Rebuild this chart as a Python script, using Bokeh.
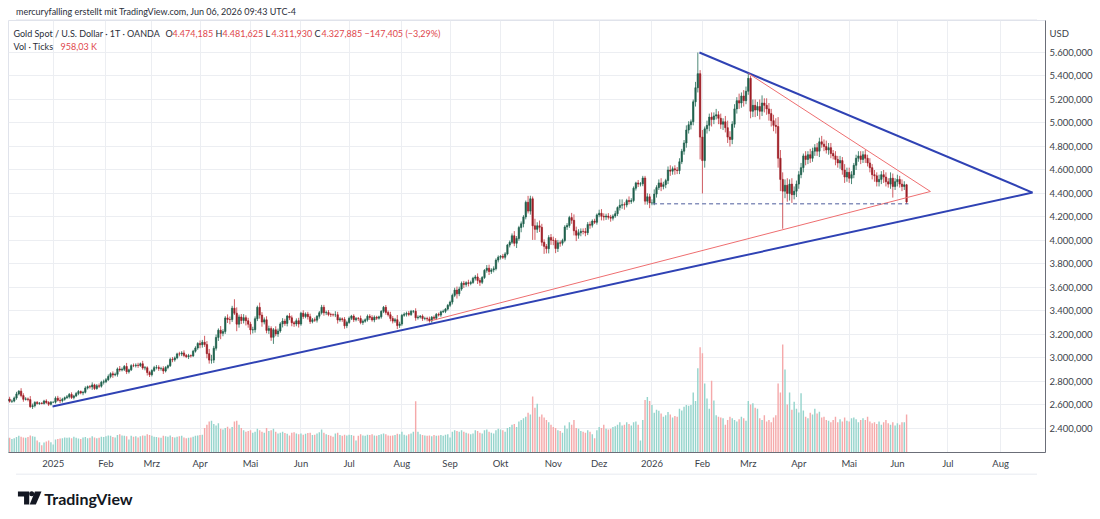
import pandas as pd
from bokeh.plotting import figure
from bokeh.layouts import column
from bokeh.models import Range1d, FixedTicker, Label, ColumnDataSource
from bokeh.embed import file_html
from bokeh.resources import INLINE

# ---------------- data (daily sessions, Mon-Fri, from 2024-12-02) ----------------
first_session = "2024-12-02"
first_open = 2633.0

close = [
    # Dec 2024
    2640, 2643, 2650, 2632, 2633, 2660, 2694, 2718, 2680, 2648, 2652, 2646, 2586, 2594, 2622, 2613, 2617, 2613, 2634, 2621, 2606, 2624,
    # Jan 2025
    2624, 2658, 2640, 2636, 2649, 2662, 2670, 2690, 2663, 2677, 2697, 2715, 2703, 2708, 2744, 2756, 2754, 2771, 2740, 2763, 2760, 2794, 2798,
    # Feb 2025
    2815, 2842, 2866, 2856, 2861, 2907, 2898, 2904, 2928, 2883, 2899, 2935, 2934, 2939, 2936, 2951, 2915, 2917, 2876, 2858,
    # Mar 2025
    2893, 2918, 2920, 2910, 2910, 2889, 2919, 2934, 2988, 2984, 3001, 3035, 3034, 3043, 3022, 3011, 3020, 3018, 3058, 3085, 3124,
    # Apr 2025
    3113, 3134, 3114, 3037, 2982, 2982, 3083, 3175, 3237, 3210, 3225, 3341, 3328, 3327, 3424, 3381, 3288, 3349, 3319, 3343, 3317, 3288,
    # May 2025
    3239, 3241, 3334, 3431, 3365, 3306, 3325, 3235, 3250, 3176, 3240, 3205, 3230, 3290, 3314, 3294, 3357, 3342, 3300, 3290, 3317, 3289,
    # Jun 2025
    3381, 3353, 3373, 3352, 3310, 3325, 3322, 3355, 3385, 3432, 3385, 3388, 3370, 3369, 3368, 3368, 3323, 3333, 3328, 3274, 3303,
    # Jul 2025
    3338, 3357, 3326, 3337, 3336, 3302, 3313, 3325, 3355, 3344, 3324, 3347, 3339, 3350, 3397, 3431, 3388, 3368, 3337, 3314, 3326, 3276, 3289,
    # Aug 2025
    3363, 3373, 3380, 3370, 3397, 3398, 3342, 3348, 3356, 3336, 3336, 3332, 3316, 3347, 3338, 3371, 3365, 3393, 3397, 3416, 3448,
    # Sep 2025
    3476, 3533, 3578, 3546, 3587, 3636, 3626, 3641, 3634, 3643, 3679, 3690, 3660, 3644, 3685, 3746, 3764, 3736, 3749, 3760, 3833, 3858,
    # Oct 2025
    3866, 3857, 3886, 3961, 3985, 4040, 3976, 4018, 4110, 4142, 4200, 4325, 4250, 4355, 4125, 4095, 4125, 4112, 3985, 3950, 3930, 4025, 4003,
    # Nov 2025
    4000, 3932, 3980, 3977, 4000, 4115, 4128, 4195, 4172, 4083, 4045, 4066, 4078, 4077, 4066, 4137, 4130, 4165, 4155, 4218,
    # Dec 2025
    4232, 4206, 4200, 4208, 4198, 4190, 4208, 4228, 4280, 4300, 4305, 4302, 4340, 4332, 4340, 4445, 4490, 4480, 4482, 4532, 4335, 4372, 4320,
    # Jan 2026
    4320, 4395, 4450, 4490, 4460, 4475, 4510, 4600, 4590, 4610, 4600, 4595, 4670, 4760, 4830, 4940, 4985, 5010, 5180, 5300, 5420, 4880,
    # Feb 2026
    4680, 4950, 4980, 5050, 5030, 5060, 5070, 5040, 4990, 5010, 4960, 4880, 4860, 4990, 5120, 5190, 5170, 5230, 5190, 5270,
    # Mar 2026
    5380, 5100, 5150, 5110, 5140, 5100, 5170, 5150, 5120, 5080, 5020, 4980, 4970, 4700, 4520, 4420, 4470, 4400, 4480, 4390, 4420, 4480,
    # Apr 2026
    4560, 4620, 4720, 4690, 4730, 4700, 4760, 4790, 4760, 4840, 4820, 4800, 4770, 4790, 4740, 4720, 4690, 4660, 4680, 4600, 4540, 4580,
    # May 2026
    4530, 4560, 4640, 4700, 4720, 4690, 4730, 4700, 4660, 4620, 4560, 4550, 4500, 4520, 4560, 4540, 4500, 4480, 4530, 4460, 4500,
    # Jun 2026
    4520, 4480, 4460, 4474.185, 4327.885,
]

upper_wick = [
    12, 15, 10, 20, 14, 12, 18, 8, 25, 20, 15, 12, 30, 18, 10, 12, 8, 5, 10, 15, 12, 10,
    5, 15, 20, 25, 12, 10, 15, 12, 18, 10, 14, 12, 8, 12, 15, 10, 14, 22, 10, 15, 20, 12, 18,
    15, 18, 12, 20, 15, 12, 25, 15, 12, 30, 10, 12, 18, 15, 20, 10, 25, 15, 12, 15,
    12, 15, 20, 18, 15, 20, 12, 10, 15, 20, 12, 10, 18, 15, 22, 12, 15, 10, 12, 15, 10,
    25, 20, 55, 30, 40, 45, 20, 25, 15, 35, 20, 15, 30, 25, 20, 76, 50, 20, 25, 30, 20, 25,
    20, 25, 20, 15, 40, 25, 20, 30, 25, 20, 15, 30, 20, 15, 25, 20, 10, 25, 20, 15, 20, 25,
    12, 25, 15, 20, 25, 15, 20, 10, 15, 20, 20, 15, 20, 15, 10, 30, 25, 15, 12, 20, 15,
    15, 10, 15, 12, 12, 25, 15, 12, 15, 18, 20, 15, 12, 10, 10, 12, 20, 15, 25, 20, 15, 40, 20,
    12, 15, 15, 20, 12, 10, 25, 15, 10, 15, 15, 15, 20, 10, 15, 12, 15, 10, 15, 10, 12,
    12, 15, 20, 30, 20, 15, 20, 12, 25, 15, 12, 17, 30, 20, 12, 10, 27, 30, 15, 20, 15, 15,
    10, 20, 15, 10, 15, 20, 40, 20, 15, 20, 15, 15, 55, 26, 20, 60, 30, 45, 30, 25, 20, 20, 30,
    30, 20, 25, 20, 15, 15, 20, 15, 40, 50, 35, 30, 25, 25, 30, 20, 25, 15, 20, 12,
    30, 35, 25, 20, 25, 20, 15, 25, 10, 50, 45, 20, 15, 35, 20, 15, 10, 25, 15, 18, 18, 30, 25,
    30, 40, 20, 30, 40, 25, 15, 30, 40, 20, 30, 25, 30, 20, 25, 40, 30, 20, 20, 50, 180, 30,
    60, 20, 40, 30, 40, 30, 50, 30, 40, 30, 50, 60, 50, 25, 40, 30, 60, 30, 50, 40,
    40, 20, 50, 50, 40, 60, 65, 40, 60, 50, 40, 50, 60, 80, 70, 60, 50, 60, 40, 50, 40, 30,
    30, 40, 20, 40, 30, 50, 30, 30, 40, 35, 50, 40, 50, 40, 40, 30, 40, 30, 40, 30, 50, 40,
    40, 30, 20, 30, 40, 40, 30, 40, 30, 40, 30, 40, 30, 40, 30, 40, 40, 30, 50, 40, 30,
    40, 30, 40, 30, 7.44,
]

lower_wick = [
    15, 10, 20, 12, 15, 10, 15, 12, 15, 20, 10, 15, 10, 20, 15, 10, 12, 8, 10, 12, 15, 10,
    5, 12, 10, 20, 15, 12, 10, 15, 12, 15, 10, 14, 12, 20, 10, 12, 15, 25, 12, 10, 15, 12, 20,
    12, 10, 15, 25, 12, 20, 15, 12, 15, 20, 15, 10, 12, 15, 20, 12, 15, 20, 25, 20,
    15, 12, 15, 20, 18, 25, 12, 15, 10, 20, 15, 12, 20, 18, 15, 12, 20, 15, 10, 12, 15,
    30, 25, 20, 40, 30, 30, 25, 20, 30, 50, 25, 20, 30, 40, 20, 15, 60, 30, 30, 25, 40, 30,
    40, 30, 25, 20, 30, 40, 20, 25, 30, 30, 56, 20, 25, 15, 30, 20, 25, 20, 30, 25, 20, 30,
    15, 20, 15, 25, 20, 15, 15, 20, 20, 15, 25, 20, 15, 20, 15, 20, 30, 15, 20, 25, 20,
    12, 15, 20, 15, 20, 15, 20, 12, 15, 20, 15, 20, 15, 12, 15, 15, 20, 15, 25, 20, 15, 30, 20,
    15, 12, 20, 15, 12, 15, 25, 15, 12, 20, 15, 20, 15, 15, 12, 15, 12, 15, 10, 15, 12,
    15, 20, 15, 40, 20, 15, 30, 20, 25, 15, 12, 20, 30, 30, 15, 12, 20, 30, 20, 20, 15, 20,
    20, 15, 20, 12, 20, 15, 25, 40, 20, 40, 30, 20, 20, 30, 120, 90, 30, 40, 30, 64, 40, 40, 40,
    40, 40, 30, 30, 20, 15, 25, 20, 30, 40, 50, 30, 30, 25, 30, 20, 30, 20, 15, 20,
    20, 35, 30, 25, 20, 30, 20, 15, 20, 25, 30, 40, 20, 25, 20, 15, 20, 25, 20, 20, 30, 30, 45,
    20, 20, 30, 20, 40, 25, 30, 30, 40, 30, 40, 30, 30, 20, 30, 40, 30, 40, 30, 40, 40, 190,
    280, 60, 40, 50, 60, 40, 30, 50, 40, 50, 40, 50, 60, 40, 30, 40, 50, 40, 50, 30,
    30, 60, 50, 60, 50, 70, 40, 60, 50, 60, 50, 50, 60, 80, 100, 320, 60, 70, 60, 70, 40, 50,
    40, 30, 40, 50, 40, 40, 30, 40, 40, 50, 30, 40, 30, 40, 40, 30, 50, 40, 50, 40, 50, 40,
    40, 50, 30, 40, 30, 40, 30, 40, 30, 40, 40, 50, 40, 40, 40, 50, 40, 30, 40, 95, 30,
    40, 30, 40, 30, 15.955,
]

volume_k = [
    380, 360, 350, 370, 340, 360, 390, 420, 400, 380, 370, 390, 430, 410, 400, 300, 260, 180, 250, 280, 300, 260,
    200, 330, 340, 350, 360, 380, 370, 380, 360, 400, 370, 350, 340, 380, 390, 360, 370, 410, 380, 360, 370, 400, 390,
    410, 430, 420, 390, 380, 440, 460, 430, 420, 410, 330, 420, 400, 410, 380, 410, 430, 420, 460, 440,
    420, 400, 390, 380, 370, 420, 410, 400, 430, 390, 380, 400, 410, 420, 380, 360, 370, 380, 400, 420, 430,
    440, 450, 620, 700, 780, 800, 720, 680, 740, 600, 580, 620, 650, 600, 640, 780, 800, 700, 620, 560, 520, 540,
    560, 500, 520, 600, 560, 520, 500, 620, 540, 560, 600, 520, 480, 500, 520, 490, 470, 430, 500, 510, 480, 460,
    480, 450, 470, 490, 500, 440, 450, 480, 510, 580, 500, 460, 440, 420, 400, 480, 500, 440, 420, 450, 430,
    450, 440, 420, 300, 420, 460, 430, 420, 450, 440, 460, 430, 420, 440, 460, 480, 460, 430, 420, 430, 440, 470, 460,
    520, 450, 430, 460, 480, 520, 1290, 520, 460, 440, 430, 420, 430, 410, 440, 420, 430, 440, 420, 450, 460,
    380, 520, 560, 540, 520, 560, 520, 500, 480, 460, 480, 560, 540, 500, 480, 560, 580, 520, 500, 480, 560, 600,
    580, 560, 520, 620, 640, 700, 720, 640, 780, 820, 860, 900, 1000, 960, 1410, 1130, 1230, 900, 960, 880, 820, 760, 700,
    640, 620, 560, 540, 500, 680, 600, 760, 700, 820, 620, 600, 540, 520, 500, 560, 520, 460, 360, 560,
    640, 620, 700, 600, 580, 600, 640, 660, 700, 760, 680, 700, 760, 720, 680, 760, 780, 700, 300, 820, 1320, 1400, 1300,
    1200, 1000, 1080, 1050, 980, 900, 940, 1020, 960, 880, 920, 900, 1100, 1060, 1150, 1200, 1180, 1200, 1510, 1300, 2120, 2650,
    2500, 1740, 1360, 1100, 1810, 1310, 940, 900, 880, 860, 700, 820, 900, 860, 820, 780, 840, 900, 860, 800,
    1300, 1210, 1240, 1130, 1100, 860, 820, 940, 780, 820, 760, 880, 940, 1740, 1510, 2720, 2090, 1210, 1510, 1080, 1280, 1100,
    1010, 1490, 1060, 900, 860, 1000, 960, 1100, 980, 1030, 880, 900, 820, 800, 760, 820, 900, 760, 840, 780, 880, 800,
    780, 860, 880, 840, 760, 820, 860, 820, 900, 780, 740, 760, 720, 780, 700, 760, 820, 740, 700, 760, 680,
    740, 700, 760, 760, 958.03,
]

# axis labels
month_labels = {2: "Feb", 3: "Mrz", 4: "Apr", 5: "Mai", 6: "Jun", 7: "Jul",
                8: "Aug", 9: "Sep", 10: "Okt", 11: "Nov", 12: "Dez"}
price_ticks = [2400, 2600, 2800, 3000, 3200, 3400, 3600, 3800, 4000,
               4200, 4400, 4600, 4800, 5000, 5200, 5400, 5600]
currency_tick = 5762  # where the "USD" scale caption sits

# drawings (x = session number counted from first_session, y = price)
blue_lower_x, blue_lower_y = [21.7, 448.9], [2588, 4408]
blue_upper_x, blue_upper_y = [303.7, 448.9], [5600, 4408]
red_lower_x, red_lower_y = [186.5, 404.4], [3316, 4417]
red_upper_x, red_upper_y = [325.1, 404.4], [5421, 4417]
dash_x, dash_y = [283.5, 394.8], [4311.93, 4311.93]

# ---------------- build ----------------
n = len(close)
for name, arr in (("upper_wick", upper_wick), ("lower_wick", lower_wick), ("volume_k", volume_k)):
    if len(arr) != n:
        raise ValueError(f"{name} has {len(arr)} values, close has {n}")

xs = list(range(n))
opens = [first_open] + close[:-1]
highs = [max(o, c) + u for o, c, u in zip(opens, close, upper_wick)]
lows = [min(o, c) - l for o, c, l in zip(opens, close, lower_wick)]
is_up = [c >= o for o, c in zip(opens, close)]

UP_BODY, DN_BODY = "#1f5f4c", "#9e1f26"
UP_WICK, DN_WICK = "#4f8a78", "#cf5c62"
UP_VOL, DN_VOL = "#95d4cc", "#f5a9aa"

src = ColumnDataSource(dict(
    x=xs,
    top=[max(o, c) for o, c in zip(opens, close)],
    bottom=[min(o, c) for o, c in zip(opens, close)],
    hi=highs, lo=lows,
    body=[UP_BODY if u else DN_BODY for u in is_up],
    wick=[UP_WICK if u else DN_WICK for u in is_up],
    vol=volume_k,
    vcol=[UP_VOL if u else DN_VOL for u in is_up],
))

all_days = pd.bdate_range(first_session, "2026-08-31")
month_ticks, month_text = [], {}
seen = set()
for i, d in enumerate(all_days):
    key = (d.year, d.month)
    if key in seen:
        continue
    seen.add(key)
    if i < 3:
        continue
    month_ticks.append(i)
    month_text[i] = str(d.year) if d.month == 1 else month_labels[d.month]

FONT = "Lato"
TXT = "#3c3f4a"
DARK = "#2a2e39"
RED = "#e0474c"

# ---------- header strip ----------
head = figure(width=1100, height=20, output_backend="svg", toolbar_location=None,
              x_range=Range1d(0, 1100), y_range=Range1d(20, 0),
              x_axis_type=None, y_axis_type=None, min_border=0, title=None)
head.outline_line_color = None
head.grid.visible = False
head.add_layout(Label(x=8, y=11, text="mercuryfalling erstellt mit TradingView.com, Jun 06, 2026 09:43 UTC-4",
                      text_font=FONT, text_font_size="9px", text_color=DARK,
                      text_align="left", text_baseline="middle"))
head.line([8, 1091], [19.5, 19.5], line_color="#e0e3eb", line_width=1)

# ---------- main chart ----------
p = figure(width=1100, height=453, output_backend="svg", toolbar_location=None,
           x_range=Range1d(2.51, 454.56), y_range=Range1d(2195.7, 5872.3),
           y_axis_location="right", title=None,
           min_border_left=8, min_border_right=55, min_border_top=0, min_border_bottom=21)
p.extra_y_ranges = {"vol": Range1d(0, 10886)}
p.background_fill_color = "white"
p.border_fill_color = "white"
p.outline_line_color = "#e0e3eb"

p.xgrid.ticker = FixedTicker(ticks=month_ticks)
p.ygrid.ticker = FixedTicker(ticks=price_ticks)
p.grid.grid_line_color = "#eceef2"
p.grid.grid_line_width = 1

p.xaxis.ticker = FixedTicker(ticks=month_ticks)
p.xaxis.major_label_overrides = month_text
p.yaxis.ticker = FixedTicker(ticks=price_ticks + [currency_tick])
overrides = {v: f"{v // 1000}.{v % 1000:03d},000" for v in price_ticks}
overrides[currency_tick] = "USD"
p.yaxis.major_label_overrides = overrides
for ax in (p.xaxis, p.yaxis):
    ax.major_tick_line_color = None
    ax.minor_tick_line_color = None
    ax.major_tick_out = 0
    ax.major_tick_in = 0
    ax.minor_tick_out = 0
    ax.axis_line_color = "#6b6e78"
    ax.major_label_text_font = FONT
    ax.major_label_text_font_size = "9.5px"
    ax.major_label_text_color = TXT
p.xaxis.major_label_standoff = 5
p.yaxis.major_label_standoff = 4

# volume
p.vbar(x="x", width=0.62, top="vol", bottom=0, fill_color="vcol", line_color=None,
       y_range_name="vol", source=src)
# candles
p.segment(x0="x", y0="lo", x1="x", y1="hi", line_color="wick", line_width=1, source=src)
p.vbar(x="x", width=0.62, top="top", bottom="bottom", fill_color="body",
       line_color="body", line_width=0.6, source=src)

# drawings
p.line(blue_lower_x, blue_lower_y, line_color="#2f42b4", line_width=2)
p.line(blue_upper_x, blue_upper_y, line_color="#2f42b4", line_width=2)
p.line(red_lower_x, red_lower_y, line_color="#ee6e70", line_width=1)
p.line(red_upper_x, red_upper_y, line_color="#ee6e70", line_width=1)
p.line(dash_x, dash_y, line_color="#4c5b9c", line_width=1, line_dash="4 3")


def lab(xpx, ypx, text, color=DARK):
    # positions given in page pixels; frame starts at x=8 and ends at y=452
    p.add_layout(Label(x=xpx - 8, y=452 - ypx, x_units="screen", y_units="screen", text=text,
                       text_font=FONT, text_font_size="9px", text_color=color,
                       text_align="left", text_baseline="middle"))


lab(13, 33, "Gold Spot / U.S. Dollar · 1T · OANDA")
lab(165, 33, "O")
lab(172, 33, "4.474,185", RED)
lab(215, 33, "H")
lab(222, 33, "4.481,625", RED)
lab(265, 33, "L")
lab(271, 33, "4.311,930", RED)
lab(314, 33, "C")
lab(321, 33, "4.327,885", RED)
lab(364, 33, "−147,405 (−3,29%)", RED)
lab(13, 46, "Vol · Ticks")
lab(60, 46, "958,03 K", RED)

# ---------- footer strip with logo ----------
foot = figure(width=1100, height=46, output_backend="svg", toolbar_location=None,
              x_range=Range1d(0, 1100), y_range=Range1d(46, 0),
              x_axis_type=None, y_axis_type=None, min_border=0, title=None)
foot.outline_line_color = None
foot.grid.visible = False
foot.line([8, 1091], [0.5, 0.5], line_color="#e0e3eb", line_width=1)
LOGO = "#131722"
foot.patch([10, 22, 22, 16.5, 16.5, 10], [18, 18, 31, 31, 23, 23], fill_color=LOGO, line_color=None)
foot.patch([28, 35, 29, 22.5], [18, 18, 31, 31], fill_color=LOGO, line_color=None)
foot.scatter([24.6], [20.2], size=5, fill_color=LOGO, line_color=None)
foot.add_layout(Label(x=38, y=24.5, text="TradingView", text_font=FONT, text_font_size="16px",
                      text_font_style="bold", text_color=LOGO,
                      text_align="left", text_baseline="middle"))

layout = column(head, p, foot, spacing=0)
open("out.html", "w").write(file_html(layout, INLINE))
